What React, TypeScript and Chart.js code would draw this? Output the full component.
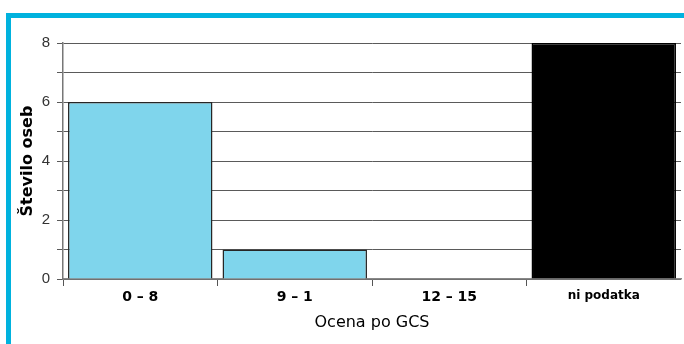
import React, { useEffect, useRef } from "react";
import { Chart, registerables } from "chart.js";

Chart.register(...registerables);

const categories = ["0 – 8", "9 – 1", "12 – 15", "ni podatka"];
const counts = [6, 1, 0, 8];
const barColors = ["#7fd5ec", "#7fd5ec", "#7fd5ec", "#000000"];
const barBorders = ["#262626", "#262626", "#262626", "#000000"];
const yTitle = "Število oseb";
const xTitle = "Ocena po GCS";

export default function App() {
  const ref = useRef<HTMLCanvasElement | null>(null);
  useEffect(() => {
    if (!ref.current) return;
    const chart = new Chart(ref.current, {
      type: "bar",
      data: {
        labels: categories,
        datasets: [
          {
            data: counts,
            backgroundColor: barColors,
            borderColor: barBorders,
            borderWidth: 1.5,
            barPercentage: 0.935,
            categoryPercentage: 1,
          },
        ],
      },
      options: {
        responsive: false,
        animation: false,
        layout: { padding: { top: 43, right: 3, bottom: 0, left: 0 } },
        plugins: { legend: { display: false }, tooltip: { enabled: false } },
        scales: {
          x: {
            afterFit: (s: any) => {
              s.height = 65;
            },
            grid: {
              drawOnChartArea: false,
              drawTicks: true,
              tickLength: 7,
              color: (ctx: any) =>
                ctx.type === "tick" && typeof ctx.index === "number" ? "#555" : "rgba(0,0,0,0)",
              offset: true,
            },
            border: { display: true, color: "#888", width: 1.5 },
            ticks: {
              color: "#000",
              padding: 3,
              maxRotation: 0,
              font: (ctx: any) =>
                ctx.index === 3
                  ? { family: "DejaVu Sans", size: 12, weight: "bold" }
                  : { family: "DejaVu Sans", size: 14, weight: "bold" },
            },
            title: {
              display: true,
              text: xTitle,
              color: "#000",
              font: { family: "DejaVu Sans", size: 16 },
              padding: { top: 0, bottom: 12 },
            },
          },
          y: {
            min: 0,
            max: 8,
            afterFit: (s: any) => {
              s.width = 63;
            },
            grid: {
              color: "#5a5a5a",
              lineWidth: 1,
              tickLength: 6,
            },
            border: { display: true, color: "#777", width: 1.5 },
            ticks: {
              stepSize: 1,
              padding: 7,
              color: "#333",
              font: { family: "Liberation Sans", size: 15 },
              callback: (v: any) => (Number(v) % 2 === 0 ? String(v) : ""),
            },
            title: {
              display: true,
              text: yTitle,
              color: "#000",
              font: { family: "DejaVu Sans", size: 16, weight: "bold" },
              padding: { top: 18, bottom: 0 },
            },
          },
        },
      },
    });
    return () => chart.destroy();
  }, []);

  return (
    <div
      style={{
        position: "absolute",
        left: 0,
        top: 0,
        width: 684,
        height: 344,
        background: "#fff",
        overflow: "hidden",
      }}
    >
      <div
        style={{
          position: "absolute",
          left: 6,
          top: 13,
          right: 0,
          bottom: -10,
          borderTop: "5px solid #00b2de",
          borderLeft: "5px solid #00b2de",
        }}
      />
      <canvas
        ref={ref}
        width={684}
        height={344}
        style={{ position: "absolute", left: 0, top: 0 }}
      />
    </div>
  );
}
